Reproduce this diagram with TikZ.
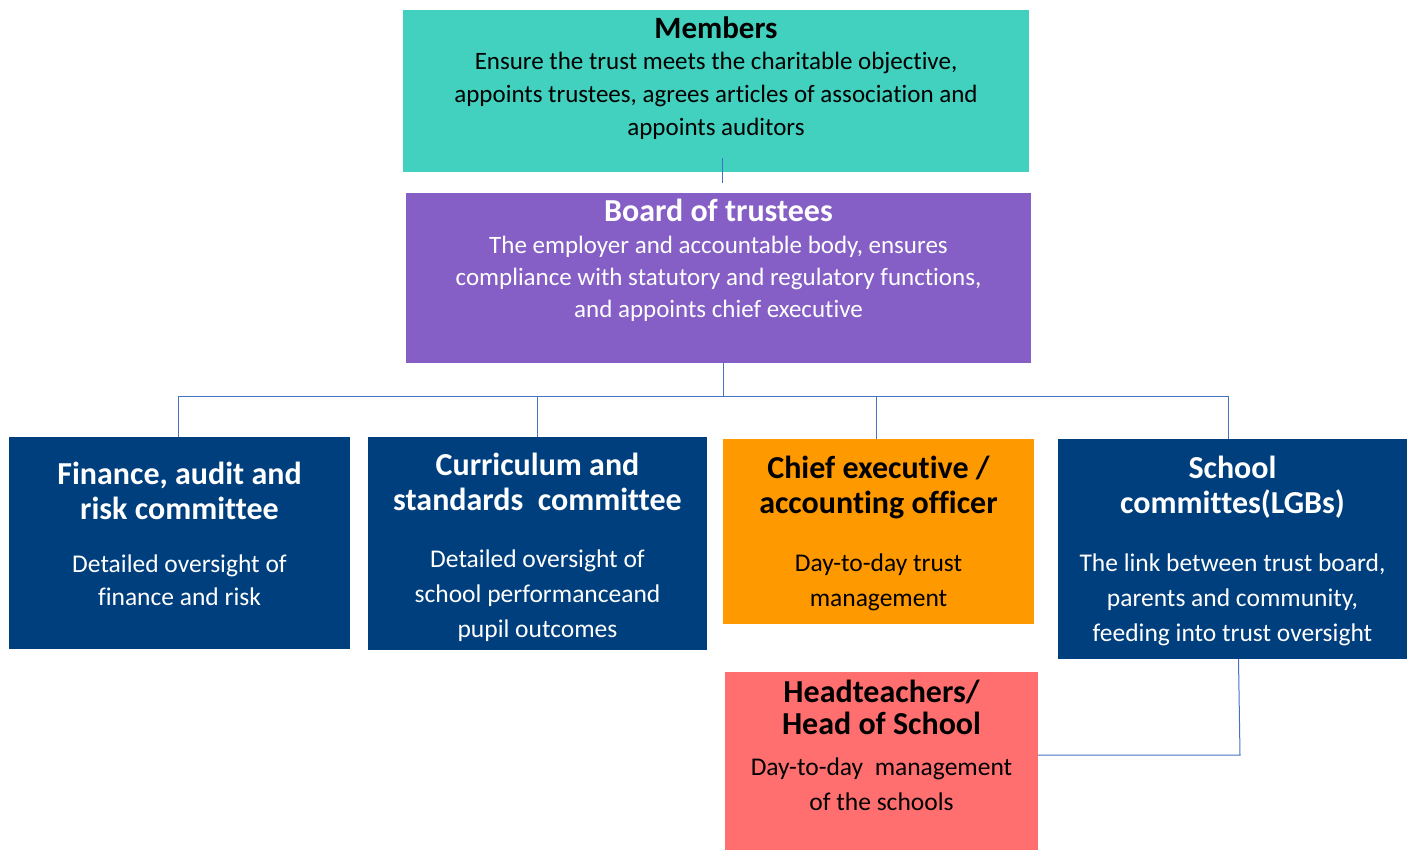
\documentclass[tikz,border=0pt]{standalone}
\usepackage{fontspec}
\setmainfont{Carlito}[Ligatures=NoCommon]
\usetikzlibrary{positioning}

\definecolor{memberteal}{HTML}{41D1BE}
\definecolor{boardpurple}{HTML}{855FC5}
\definecolor{cmtnavy}{HTML}{003F7D}
\definecolor{ceoorange}{HTML}{FF9900}
\definecolor{headpink}{HTML}{FF6F6F}
\definecolor{linkblue}{HTML}{4472C4}

\newcommand\boxtitle{\bfseries\fontsize{32}{34}\selectfont}

\begin{document}
\begin{tikzpicture}[x=1pt,y=-1pt,
    box/.style={rectangle, draw=none, inner sep=0pt},
    txt/.style={align=center, inner sep=0pt, font=\fontsize{25.5}{35}\selectfont},
    link/.style={draw=linkblue, line width=1pt}]
  \useasboundingbox (0,0) rectangle (1414,851);

  % top of the trust
  \node[box, fill=memberteal,  minimum width=626pt, minimum height=162pt] (members) at (716,91)  {};
  \node[box, fill=boardpurple, minimum width=625pt, minimum height=170pt] (board)   at (718.5,278) {};

  % committees and officers
  \node[box, fill=cmtnavy,   minimum width=341pt, minimum height=212pt] (finance)    at (179.5,543)  {};
  \node[box, fill=cmtnavy,   minimum width=339pt, minimum height=213pt] (curriculum) at (537.5,543.5) {};
  \node[box, fill=ceoorange, minimum width=311pt, minimum height=185pt] (chief)      at (878.5,531.5) {};
  \node[box, fill=cmtnavy,   minimum width=349pt, minimum height=220pt] (school)     at (1232.5,549)  {};
  \node[box, fill=headpink,  minimum width=313pt, minimum height=178pt] (head)       at (881.5,761)   {};

  % texts
  \node[txt, font=\fontsize{25}{33}\selectfont] (members-t) at ([yshift=13pt]members.center)
    {{\bfseries\fontsize{31}{33}\selectfont Members}\\[-2pt]
     Ensure the trust meets the charitable objective,\\
     appoints trustees, agrees articles of association and\\
     appoints auditors};
  \node[txt, text=white, font=\fontsize{25}{32}\selectfont] (board-t) at ([yshift=18pt]board.center)
    {{\bfseries\fontsize{32}{32}\selectfont Board of trustees}\\
     The employer and accountable body, ensures\\
     compliance with statutory and regulatory functions,\\
     and appoints chief executive};
  \node[txt, text=white] (finance-t) at ([yshift=9pt]finance.center)
    {{\boxtitle Finance, audit and}\\
     {\boxtitle risk committee}\\[18pt]
     Detailed oversight of\\[-2pt]
     finance and risk};
  \node[txt, text=white] (curriculum-t) at ([yshift=-4pt]curriculum.center)
    {{\boxtitle Curriculum and}\\
     {\boxtitle standards\ \ committee}\\[22pt]
     Detailed oversight of\\
     school performanceand\\
     pupil outcomes};
  \node[txt] (chief-t) at ([yshift=-2pt]chief.center)
    {{\boxtitle Chief executive /}\\
     {\boxtitle accounting officer}\\[23pt]
     Day-to-day trust\\
     management};
  \node[txt, text=white] (school-t) at ([yshift=-1.5pt]school.center)
    {{\boxtitle School}\\
     {\boxtitle committes(LGBs)}\\[23pt]
     The link between trust board,\\
     parents and community,\\
     feeding into trust oversight};
  \node[txt] (head-t) at ([yshift=16pt]head.center)
    {{\boxtitle Headteachers/}\\[-3pt]
     {\boxtitle Head of School}\\[6pt]
     Day-to-day\ \ management\\
     of the schools};

  % connectors
  \draw[link] ([xshift=6pt,yshift=14pt]members.south) -- ([xshift=3.5pt,yshift=10pt]board.north);

  \coordinate (bus) at (0,396);
  \draw[link] ([xshift=4.5pt]board.south) -- ([xshift=4.5pt]board.south |- bus);
  \draw[link] ([xshift=-1.5pt]finance.north |- bus) -- ([xshift=-4.5pt]school.north |- bus);
  \foreach \c/\dx in {finance/-1.5,curriculum/-0.5,chief/-2.5,school/-4.5}
    \draw[link] ([xshift=\dx pt]\c.north |- bus) -- ([xshift=\dx pt]\c.north);

  \coordinate (elbow) at (1240,755);
  \draw[link] ([xshift=6pt]school.south) -- (elbow) -- (head.east |- elbow);
\end{tikzpicture}
\end{document}
